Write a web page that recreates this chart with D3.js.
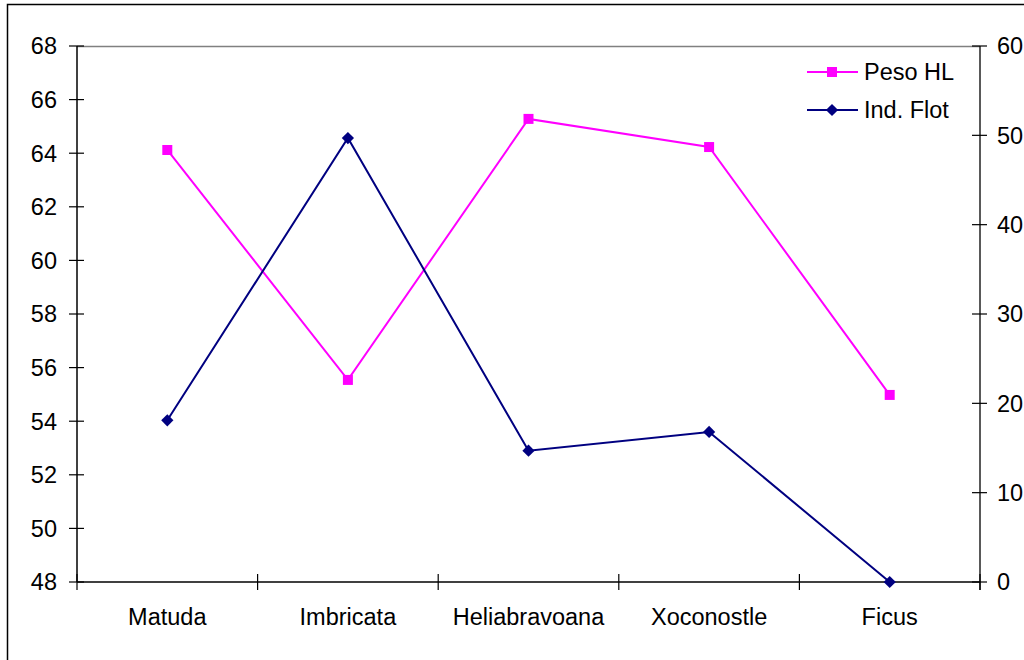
<!DOCTYPE html>
<html><head><meta charset="utf-8">
<script src="https://cdn.jsdelivr.net/npm/d3@7"></script>
<style>body{margin:0;background:#fff}svg{display:block}text{font-family:"Liberation Sans",Arial,sans-serif}</style>
</head><body>
<svg id="c" width="1024" height="660"></svg>
<script>
const categories = ["Matuda","Imbricata","Heliabravoana","Xoconostle","Ficus"];
const pesoHL = [64.12, 55.54, 65.28, 64.23, 54.98];
const indFlot = [18.1, 49.7, 14.7, 16.8, 0];
const leftTicks = [48,50,52,54,56,58,60,62,64,66,68];
const rightTicks = [0,10,20,30,40,50,60];
const seriesNames = ["Peso HL","Ind. Flot"];

const svg = d3.select("#c");
const L = 77, R = 980, T = 46, B = 582;
const fs = 23.5;

svg.append("rect").attr("x",7.5).attr("y",4.5).attr("width",1100).attr("height",800)
  .attr("fill","none").attr("stroke","#000").attr("stroke-width",1.5);

const x = d3.scaleBand().domain(categories).range([L,R]).padding(0);
const yL = d3.scaleLinear().domain([48,68]).range([B,T]);
const yR = d3.scaleLinear().domain([0,60]).range([B,T]);

svg.append("line").attr("x1",L).attr("x2",R).attr("y1",T+0.5).attr("y2",T+0.5).attr("stroke","#808080").attr("stroke-width",1.5);

const gL = svg.append("g");
gL.append("line").attr("x1",L).attr("x2",L).attr("y1",T).attr("y2",B).attr("stroke","#000").attr("stroke-width",1.5);
leftTicks.forEach(t=>{
  gL.append("line").attr("x1",L-8).attr("x2",L+7).attr("y1",yL(t)).attr("y2",yL(t)).attr("stroke","#000").attr("stroke-width",1.2);
  gL.append("text").attr("x",57).attr("y",yL(t)).attr("dy","0.36em").attr("text-anchor","end").attr("font-size",fs).text(t);
});
const gR = svg.append("g");
gR.append("line").attr("x1",R).attr("x2",R).attr("y1",T).attr("y2",B+8).attr("stroke","#222").attr("stroke-width",1.5);
rightTicks.forEach(t=>{
  gR.append("line").attr("x1",R-8).attr("x2",R+7).attr("y1",yR(t)).attr("y2",yR(t)).attr("stroke","#000").attr("stroke-width",1.2);
  gR.append("text").attr("x",997).attr("y",yR(t)).attr("dy","0.36em").attr("text-anchor","start").attr("font-size",fs).text(t);
});
const gB = svg.append("g");
gB.append("line").attr("x1",L).attr("x2",R).attr("y1",B).attr("y2",B).attr("stroke","#000").attr("stroke-width",1.5);
const bounds = categories.map(c=>x(c)).concat([R]);
bounds.forEach(b=>{
  gB.append("line").attr("x1",b).attr("x2",b).attr("y1",B-8).attr("y2",B+8).attr("stroke","#000").attr("stroke-width",1.2);
});
categories.forEach(c=>{
  gB.append("text").attr("x",x(c)+x.bandwidth()/2).attr("y",617).attr("dy","0.36em").attr("text-anchor","middle").attr("font-size",fs).text(c);
});

const cx = c=>x(c)+x.bandwidth()/2;
const lineL = d3.line().x((d,i)=>cx(categories[i])).y(d=>yL(d));
const lineR = d3.line().x((d,i)=>cx(categories[i])).y(d=>yR(d));
svg.append("path").attr("d",lineL(pesoHL)).attr("fill","none").attr("stroke","#ff00ff").attr("stroke-width",2);
svg.append("path").attr("d",lineR(indFlot)).attr("fill","none").attr("stroke","#000080").attr("stroke-width",2);
const sq = d3.symbol().type(d3.symbolSquare).size(100);
const dm = d3.symbol().type(d3.symbolSquare).size(75);
pesoHL.forEach((v,i)=>svg.append("path").attr("d",sq()).attr("transform",`translate(${cx(categories[i])},${yL(v)})`).attr("fill","#ff00ff"));
indFlot.forEach((v,i)=>svg.append("path").attr("d",dm()).attr("transform",`translate(${cx(categories[i])},${yR(v)}) rotate(45)`).attr("fill","#000080"));

const leg = [{n:seriesNames[0],c:"#ff00ff",s:sq,y:72,r:0},{n:seriesNames[1],c:"#000080",s:dm,y:110,r:45}];
leg.forEach(l=>{
  svg.append("line").attr("x1",807).attr("x2",858).attr("y1",l.y).attr("y2",l.y).attr("stroke",l.c).attr("stroke-width",2);
  svg.append("path").attr("d",l.s()).attr("transform",`translate(832,${l.y}) rotate(${l.r})`).attr("fill",l.c);
  svg.append("text").attr("x",864).attr("y",l.y).attr("dy","0.36em").attr("font-size",fs).text(l.n);
});
</script>
</body></html>
